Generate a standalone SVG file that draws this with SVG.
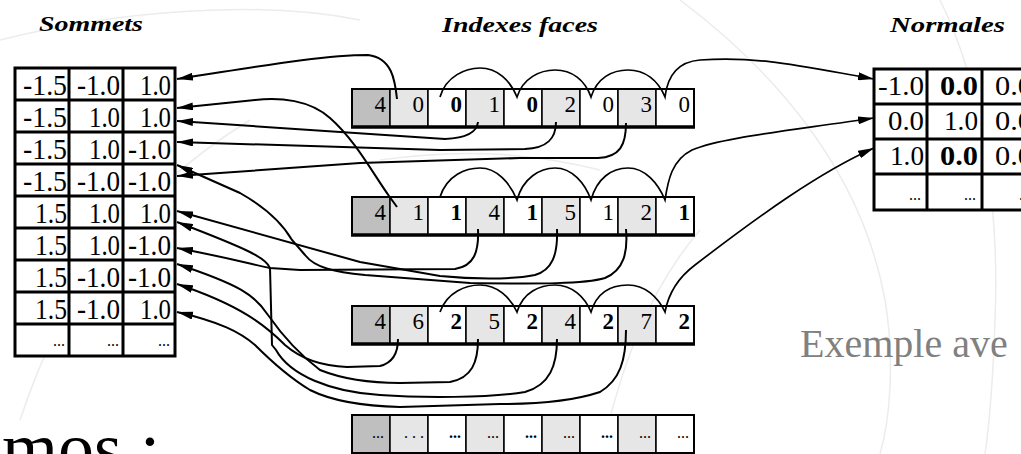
<svg xmlns="http://www.w3.org/2000/svg" width="1021" height="454" viewBox="0 0 1021 454">
<style>
.bg path{fill:none;stroke:#ececec;stroke-width:1.5}
.tbl rect{fill:#fff;stroke:#000;stroke-width:3}
.tbl line{stroke:#000;stroke-width:3}
.cell{stroke:#000;stroke-width:1.5}
.c0{fill:#bfbfbf}.cg{fill:#e6e6e6}.cw{fill:#fff}
.outer{fill:none;stroke:#000;stroke-width:2}
.bot{stroke:#000;stroke-width:3.5}
.num{font-family:"Liberation Serif",serif;font-size:29px;text-anchor:end;fill:#000}
.nn{font-family:"Liberation Serif",serif;font-size:27px;text-anchor:end;fill:#000}
.idx{font-family:"Liberation Serif",serif;font-size:23px;text-anchor:end;fill:#000}
.b{font-weight:bold}
.dots{font-family:"Liberation Serif",serif;font-size:16px;text-anchor:end;fill:#000}
.lbl{font-family:"Liberation Serif",serif;font-style:italic;font-weight:bold;font-size:22px;fill:#000}
.conn path{fill:none;stroke:#000;stroke-width:2;marker-end:url(#ah)}
.conn path.arc{stroke-width:1.7}
</style>
<defs>
<marker id="ah" viewBox="0 0 16 8" refX="16" refY="4" markerWidth="16" markerHeight="8" markerUnits="userSpaceOnUse" orient="auto"><path d="M0,0 L16,4 L0,8 z" fill="#000"/></marker>
</defs>
<rect width="1021" height="454" fill="#fff"/>
<g class="bg">
<path d="M0,40 C120,10 260,0 360,20"/>
<path d="M20,420 C60,300 120,200 250,120"/>
<path d="M680,0 C760,60 860,160 885,300 C895,360 890,420 880,454"/>
<path d="M940,0 C980,80 1000,200 995,320 C993,380 990,420 985,454"/>
<path d="M600,454 C620,380 640,300 700,230"/>
<path d="M380,160 C450,150 520,150 600,170"/>
</g>

<g id="labels">
<text class="lbl" x="39" y="31" textLength="104" lengthAdjust="spacingAndGlyphs">Sommets</text>
<text class="lbl" x="442" y="32" textLength="156" lengthAdjust="spacingAndGlyphs">Indexes faces</text>
<text class="lbl" x="890" y="32" textLength="115" lengthAdjust="spacingAndGlyphs">Normales</text>
</g>

<g id="sommets" class="tbl">
<rect x="15" y="68" width="160" height="288"/>
<line x1="69" y1="68" x2="69" y2="356"/><line x1="123" y1="68" x2="123" y2="356"/>
<line x1="15" y1="100" x2="175" y2="100"/><line x1="15" y1="132" x2="175" y2="132"/>
<line x1="15" y1="164" x2="175" y2="164"/><line x1="15" y1="196" x2="175" y2="196"/>
<line x1="15" y1="228" x2="175" y2="228"/><line x1="15" y1="260" x2="175" y2="260"/>
<line x1="15" y1="292" x2="175" y2="292"/><line x1="15" y1="324" x2="175" y2="324"/>
<text class="num" x="67" y="95" textLength="44" lengthAdjust="spacingAndGlyphs">-1.5</text><text class="num" x="120" y="95" textLength="43" lengthAdjust="spacingAndGlyphs">-1.0</text><text class="num" x="171" y="95" textLength="31" lengthAdjust="spacingAndGlyphs">1.0</text>
<text class="num" x="67" y="127" textLength="44" lengthAdjust="spacingAndGlyphs">-1.5</text><text class="num" x="120" y="127" textLength="31" lengthAdjust="spacingAndGlyphs">1.0</text><text class="num" x="171" y="127" textLength="31" lengthAdjust="spacingAndGlyphs">1.0</text>
<text class="num" x="67" y="159" textLength="44" lengthAdjust="spacingAndGlyphs">-1.5</text><text class="num" x="120" y="159" textLength="31" lengthAdjust="spacingAndGlyphs">1.0</text><text class="num" x="171" y="159" textLength="43" lengthAdjust="spacingAndGlyphs">-1.0</text>
<text class="num" x="67" y="191" textLength="44" lengthAdjust="spacingAndGlyphs">-1.5</text><text class="num" x="120" y="191" textLength="43" lengthAdjust="spacingAndGlyphs">-1.0</text><text class="num" x="171" y="191" textLength="43" lengthAdjust="spacingAndGlyphs">-1.0</text>
<text class="num" x="67" y="223" textLength="32" lengthAdjust="spacingAndGlyphs">1.5</text><text class="num" x="120" y="223" textLength="31" lengthAdjust="spacingAndGlyphs">1.0</text><text class="num" x="171" y="223" textLength="31" lengthAdjust="spacingAndGlyphs">1.0</text>
<text class="num" x="67" y="255" textLength="32" lengthAdjust="spacingAndGlyphs">1.5</text><text class="num" x="120" y="255" textLength="31" lengthAdjust="spacingAndGlyphs">1.0</text><text class="num" x="171" y="255" textLength="43" lengthAdjust="spacingAndGlyphs">-1.0</text>
<text class="num" x="67" y="287" textLength="32" lengthAdjust="spacingAndGlyphs">1.5</text><text class="num" x="120" y="287" textLength="43" lengthAdjust="spacingAndGlyphs">-1.0</text><text class="num" x="171" y="287" textLength="43" lengthAdjust="spacingAndGlyphs">-1.0</text>
<text class="num" x="67" y="319" textLength="32" lengthAdjust="spacingAndGlyphs">1.5</text><text class="num" x="120" y="319" textLength="43" lengthAdjust="spacingAndGlyphs">-1.0</text><text class="num" x="171" y="319" textLength="31" lengthAdjust="spacingAndGlyphs">1.0</text>
<text class="dots" x="65" y="346">...</text><text class="dots" x="119" y="346">...</text><text class="dots" x="170" y="346">...</text>
</g>

<g id="normales" class="tbl">
<rect x="874" y="69" width="165" height="141"/>
<line x1="927" y1="69" x2="927" y2="210"/><line x1="982" y1="69" x2="982" y2="210"/>
<line x1="874" y1="104" x2="1039" y2="104"/><line x1="874" y1="139" x2="1039" y2="139"/>
<line x1="874" y1="174" x2="1039" y2="174"/>
<text class="nn" x="924" y="95" textLength="46" lengthAdjust="spacingAndGlyphs">-1.0</text><text class="nn b" x="978" y="95" textLength="38" lengthAdjust="spacingAndGlyphs">0.0</text><text class="nn" x="1033" y="95" textLength="38" lengthAdjust="spacingAndGlyphs">0.0</text>
<text class="nn" x="924" y="130" textLength="36" lengthAdjust="spacingAndGlyphs">0.0</text><text class="nn" x="978" y="130" textLength="34" lengthAdjust="spacingAndGlyphs">1.0</text><text class="nn" x="1033" y="130" textLength="38" lengthAdjust="spacingAndGlyphs">0.0</text>
<text class="nn" x="924" y="165" textLength="34" lengthAdjust="spacingAndGlyphs">1.0</text><text class="nn b" x="978" y="165" textLength="38" lengthAdjust="spacingAndGlyphs">0.0</text><text class="nn" x="1033" y="165" textLength="38" lengthAdjust="spacingAndGlyphs">0.0</text>
<text class="dots" x="921" y="200">...</text><text class="dots" x="976" y="200">...</text><text class="dots" x="1031" y="200">...</text>
</g>

<g id="face1">
<rect class="cell c0" x="352" y="89" width="38" height="38"/><rect class="cell cg" x="390" y="89" width="38" height="38"/>
<rect class="cell cw" x="428" y="89" width="38" height="38"/><rect class="cell cg" x="466" y="89" width="38" height="38"/>
<rect class="cell cw" x="504" y="89" width="38" height="38"/><rect class="cell cg" x="542" y="89" width="38" height="38"/>
<rect class="cell cw" x="580" y="89" width="38" height="38"/><rect class="cell cg" x="618" y="89" width="38" height="38"/>
<rect class="cell cw" x="656" y="89" width="38" height="38"/>
<rect class="outer" x="352" y="89" width="342" height="38"/><line class="bot" x1="351" y1="127" x2="695" y2="127"/>
<text class="idx" x="386" y="112">4</text><text class="idx" x="424" y="112">0</text><text class="idx b" x="462" y="112">0</text>
<text class="idx" x="500" y="112">1</text><text class="idx b" x="538" y="112">0</text><text class="idx" x="576" y="112">2</text>
<text class="idx" x="614" y="112">0</text><text class="idx" x="652" y="112">3</text><text class="idx" x="690" y="112">0</text>
</g>

<g id="face2">
<rect class="cell c0" x="352" y="197" width="38" height="38"/><rect class="cell cg" x="390" y="197" width="38" height="38"/>
<rect class="cell cw" x="428" y="197" width="38" height="38"/><rect class="cell cg" x="466" y="197" width="38" height="38"/>
<rect class="cell cw" x="504" y="197" width="38" height="38"/><rect class="cell cg" x="542" y="197" width="38" height="38"/>
<rect class="cell cw" x="580" y="197" width="38" height="38"/><rect class="cell cg" x="618" y="197" width="38" height="38"/>
<rect class="cell cw" x="656" y="197" width="38" height="38"/>
<rect class="outer" x="352" y="197" width="342" height="38"/><line class="bot" x1="351" y1="235" x2="695" y2="235"/>
<text class="idx" x="386" y="220">4</text><text class="idx" x="424" y="220">1</text><text class="idx b" x="462" y="220">1</text>
<text class="idx" x="500" y="220">4</text><text class="idx b" x="538" y="220">1</text><text class="idx" x="576" y="220">5</text>
<text class="idx" x="614" y="220">1</text><text class="idx" x="652" y="220">2</text><text class="idx b" x="690" y="220">1</text>
</g>

<g id="face3">
<rect class="cell c0" x="352" y="306" width="38" height="38"/><rect class="cell cg" x="390" y="306" width="38" height="38"/>
<rect class="cell cw" x="428" y="306" width="38" height="38"/><rect class="cell cg" x="466" y="306" width="38" height="38"/>
<rect class="cell cw" x="504" y="306" width="38" height="38"/><rect class="cell cg" x="542" y="306" width="38" height="38"/>
<rect class="cell cw" x="580" y="306" width="38" height="38"/><rect class="cell cg" x="618" y="306" width="38" height="38"/>
<rect class="cell cw" x="656" y="306" width="38" height="38"/>
<rect class="outer" x="352" y="306" width="342" height="38"/><line class="bot" x1="351" y1="344" x2="695" y2="344"/>
<text class="idx" x="386" y="329">4</text><text class="idx" x="424" y="329">6</text><text class="idx b" x="462" y="329">2</text>
<text class="idx" x="500" y="329">5</text><text class="idx b" x="538" y="329">2</text><text class="idx" x="576" y="329">4</text>
<text class="idx b" x="614" y="329">2</text><text class="idx" x="652" y="329">7</text><text class="idx b" x="690" y="329">2</text>
</g>

<g id="face4">
<rect class="cell c0" x="352" y="415" width="38" height="38"/><rect class="cell cg" x="390" y="415" width="38" height="38"/>
<rect class="cell cw" x="428" y="415" width="38" height="38"/><rect class="cell cg" x="466" y="415" width="38" height="38"/>
<rect class="cell cw" x="504" y="415" width="38" height="38"/><rect class="cell cg" x="542" y="415" width="38" height="38"/>
<rect class="cell cw" x="580" y="415" width="38" height="38"/><rect class="cell cg" x="618" y="415" width="38" height="38"/>
<rect class="cell cw" x="656" y="415" width="38" height="38"/>
<rect class="outer" x="352" y="415" width="342" height="38"/>
<text class="dots" x="384" y="438">...</text><text class="dots" x="424" y="438">. . .</text><text class="dots b" x="461" y="438">...</text>
<text class="dots" x="499" y="438">...</text><text class="dots b" x="537" y="438">...</text><text class="dots" x="575" y="438">...</text>
<text class="dots b" x="613" y="438">...</text><text class="dots" x="651" y="438">...</text><text class="dots" x="689" y="438">...</text>
</g>

<g id="notes">
<text x="800" y="357" font-family="Liberation Serif, serif" font-size="40" fill="#808080">Exemple ave</text>
<text x="2" y="472" font-family="Liberation Serif, serif" font-size="72" fill="#000">mos :</text>
</g>

<g id="connectors" class="conn">
<path class="arc" d="M440,97 C446,76 466,68 480,68 C497,68 510,80 517,97 C523,78 540,70 555,70 C572,70 585,80 591,97 C597,78 612,70 628,70 C645,70 658,80 665,97 C667,80 675,62 700,60 C760,56 800,66 874,79"/>
<path class="arc" d="M440,197 C447,175 466,168 480,168 C497,168 510,183 517,200 C523,178 540,168 555,168 C572,168 585,183 591,200 C597,178 612,168 628,168 C645,168 658,183 665,200 C668,180 672,160 692,150 C720,138 780,132 874,118"/>
<path class="arc" d="M440,312 C447,292 466,285 480,285 C497,285 510,297 517,312 C523,292 540,285 555,285 C572,285 585,297 591,312 C597,292 612,285 628,285 C645,285 658,297 665,312 C668,296 675,280 695,265 C760,215 820,172 874,148"/>
<path d="M397,99 C395,80 392,58 368,55 C320,55 250,68 177,79"/>
<path d="M397,207 L389,196 C372,172 355,140 330,118 C310,100 280,97 255,100 L177,108"/>
<path d="M478,122 C477,132 468,138 445,139 L177,121"/>
<path d="M556,122 C556,138 548,148 525,149 L440,150 L177,142"/>
<path d="M626,123 C626,145 620,157 598,158 L520,158 L360,163 L177,176"/>
<path d="M626,229 C628,252 624,270 605,278 C585,284 540,284 470,283 L365,275 C335,272 315,268 305,255 L292,240 C285,228 270,210 240,193 L177,165"/>
<path d="M557,229 C558,255 552,270 535,275 C510,280 470,279 440,276 L360,262 L177,211"/>
<path d="M557,339 C557,365 550,385 525,392 C490,398 420,398 380,395 C330,392 290,375 276,350 L272,345 L270,268 C266,258 250,250 177,222"/>
<path d="M478,229 C479,252 474,266 455,269 L300,270 L270,268 C250,264 230,258 177,248"/>
<path d="M478,339 C478,362 472,378 450,382 L400,383 C370,383 340,378 320,370 C300,355 282,335 268,315 C255,295 240,285 177,264"/>
<path d="M398,339 C398,355 392,363 380,366 L347,367 C320,366 300,358 285,345 C265,325 240,305 177,284"/>
<path d="M626,330 C626,360 620,380 600,392 C570,402 530,404 500,404 L400,407 C360,406 330,400 310,390 C290,378 270,360 255,345 C240,332 220,322 177,312"/>
</g>
</svg>
